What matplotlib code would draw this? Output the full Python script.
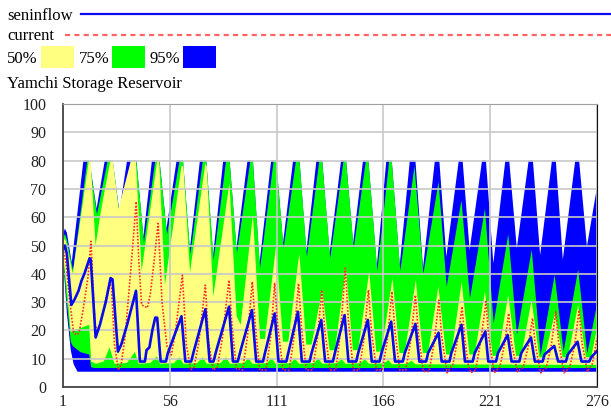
import matplotlib
matplotlib.use("Agg")
import matplotlib.pyplot as plt
from matplotlib.lines import Line2D
from matplotlib.patches import Rectangle

plt.rcParams['font.family'] = ['Liberation Serif', 'DejaVu Serif']

# --- data (time in months, value) ---
x_ticks = [1, 56, 111, 166, 221, 276]
y_ticks = list(range(0, 101, 10))

# 95% band
blue_hi = [(1, 54), (2, 56), (3, 54.5), (5.5, 44), (11.5, 80), (14.6, 80), (18.3, 63),
           (22.5, 80), (26.6, 80), (30, 62), (34, 80), (38.8, 80), (42.4, 53),
           (46.8, 80), (50.7, 80), (54.3, 56), (59.5, 80), (62.8, 80), (66.3, 48.5),
           (71.5, 80), (74.8, 80), (78.3, 46.5), (83.5, 80), (86.8, 80), (90.3, 49),
           (96, 80), (98.8, 80), (102.2, 43.7), (108.2, 80), (110.8, 80), (114.3, 50.8),
           (119.5, 80), (122.8, 80), (126.3, 47.8), (131.5, 80), (134.5, 80), (138.3, 47.2),
           (144.2, 80), (146.8, 80), (150.4, 50.8), (155.5, 80), (158.3, 80), (162.6, 42.5),
           (167.5, 80), (170.3, 80), (174.4, 43), (179.6, 80), (182.5, 80), (186.4, 42),
           (192.5, 80), (194.8, 80), (198.4, 46), (204.8, 80), (206.8, 80), (210.4, 48.4),
           (216.8, 80), (218.8, 80), (222.6, 43.7), (228.8, 80), (230.8, 80), (234.7, 49),
           (240.8, 80), (243, 80), (246.7, 46.6), (252.8, 80), (254.8, 80), (258.4, 45),
           (264.8, 80), (266.8, 80), (270.8, 49.6), (276, 70.6)]
blue_lo = [(1, 46), (3, 26), (5, 13), (6.5, 8), (8.5, 5.4), (276, 5.4)]

# 75% band
green_hi = [(1, 52.5), (2, 54), (3, 52), (6.2, 41), (13.5, 80), (14.6, 80), (18.5, 61),
            (24, 80), (26.6, 80), (30.3, 60), (36, 80), (38.8, 80), (42.7, 51),
            (48.5, 80), (50.7, 80), (54.6, 54), (61, 80), (62.8, 80), (66.6, 47),
            (73, 80), (74.8, 80), (78.6, 45), (85, 80), (86.8, 80), (90.6, 47.5),
            (97.5, 80), (98.8, 80), (102.5, 42), (109.5, 80), (110.8, 80), (114.6, 49),
            (121, 80), (122.8, 80), (126.6, 46), (133, 80), (134.5, 80), (138.6, 45.5),
            (145.5, 80), (146.8, 80), (150.7, 49), (157, 80), (158.3, 80), (162.9, 41),
            (169, 80), (170.3, 80), (174.7, 41), (182, 78), (186.6, 40), (194.4, 72.5),
            (198.6, 35.5), (206.2, 66), (210.6, 31.3), (218.3, 63), (222.8, 22.5),
            (230.3, 54), (234.8, 18.4), (242.4, 48.5), (247, 11.3), (254.2, 39.6),
            (258.8, 12.5), (266.3, 41.5), (271, 11.9), (276, 29)]
green_lo = [(1, 46.5), (3, 30), (5, 16), (6, 14.5), (10, 12.3), (14.5, 11.5), (15.5, 7),
            (17, 6.7), (276, 6.7)]

# 50% band
yellow_hi = [(1, 51), (2, 52.5), (3, 50), (6, 40), (14.3, 80), (15.2, 80), (17.8, 50),
             (20, 60), (22.5, 69.6), (25.4, 80), (26.7, 80), (29.6, 63), (36, 80),
             (38.5, 80), (41.5, 41), (49.5, 80), (50.5, 80), (53.5, 36), (62, 78),
             (63, 78), (66.4, 40.5), (74.3, 79), (75, 78), (78.4, 32), (86.7, 72),
             (90.4, 25), (92.5, 22), (98.8, 60.8), (102.5, 17), (105, 17), (110.7, 49.6),
             (114.3, 16), (117, 16), (122.7, 47.2), (126.3, 15), (129, 15), (134.5, 34.3),
             (138.3, 13), (141, 13), (146.7, 41.9), (150.3, 13), (153, 13), (158.7, 40.8),
             (162.3, 12.5), (165, 12.5), (170.7, 38.4), (174.3, 12), (177, 12),
             (182.7, 37.8), (186.3, 12), (189, 12), (194.3, 35.5), (198.3, 11.5),
             (201, 11.5), (206.3, 37.2), (210.3, 11.5), (213, 11.5), (218.3, 33.7),
             (222.3, 11), (225, 11), (230.3, 32.5), (234.3, 11), (237, 11), (242.3, 30.7),
             (246.3, 10.5), (249, 10.5), (254.3, 26), (258.3, 10.5), (261, 10.5),
             (266.3, 29), (270.3, 10.5), (273, 10.5), (276, 21)]
yellow_lo = [(1, 47), (3, 35), (5, 19.5), (14.5, 22), (15.5, 9), (18, 8.2), (22, 9),
             (25, 14), (27.5, 8.2), (34, 8.5), (38, 12.4), (40, 8.2), (46, 8.5),
             (49.4, 10.8), (51, 8.2), (58, 8.4), (61, 10.5), (63, 8.2), (70, 8.4),
             (73, 10.5), (75, 8.2), (82, 8.4), (85, 10.5), (87, 8.2), (94, 8.4),
             (96.5, 10.2), (98.5, 8.2), (106, 8.4), (108.5, 10.2), (110.5, 8.2),
             (118, 8.4), (120.5, 10), (122.5, 8.2), (130, 8.4), (132.5, 10), (134.5, 8.2),
             (142, 8.4), (144.5, 9.8), (146.5, 8.2), (154, 8.4), (156.5, 9.8), (158.5, 8.2),
             (166, 8.3), (168.5, 9.5), (170.5, 8), (178, 8.2), (180.5, 9.3), (182.5, 8),
             (195, 8), (276, 7.8)]

seninflow = [(1, 48.5), (2, 50), (3, 47), (5.3, 29), (7, 31), (9, 34), (10.5, 37.5),
             (12, 40), (14.7, 45.5), (15.3, 45), (17.8, 17.5), (20, 22), (23, 30),
             (25.5, 38.5), (26.5, 38), (29.3, 12.5), (31, 15), (34, 22), (38.6, 34),
             (40.6, 9), (43.2, 9), (44, 13), (45.5, 14), (47, 20), (48.5, 24.5),
             (49.5, 24.5), (51.3, 9), (54, 9), (55, 12), (62, 25), (64, 9), (67, 9),
             (68.5, 13), (74.3, 27.5), (76.5, 9), (78.5, 9), (80, 13), (86.5, 28.4),
             (88.5, 9), (91, 9), (92.5, 13), (98.3, 27.2), (100.5, 9), (104, 9), (105, 12),
             (110, 26), (112, 9), (116, 9), (117, 12), (122, 26.6), (124, 9), (128, 9),
             (129, 12), (134, 23.7), (136, 9), (140, 9), (141, 12), (146, 25.4), (148, 9),
             (152, 9), (153, 12), (158, 23.7), (160, 9), (164, 9), (165, 12), (170, 23.1),
             (172, 9), (176, 9), (177, 12), (182.5, 22.3), (184.5, 9), (188, 9), (189, 12),
             (194.4, 19.2), (196, 9), (200, 9), (201, 12), (206.2, 22), (208, 9), (212, 9),
             (213, 12), (218.5, 19.6), (220, 9), (224, 9), (225, 12), (230, 18.4), (232, 9),
             (236, 9), (237, 12), (242, 17.5), (244, 9), (248, 9), (249, 11.5), (254, 14.5),
             (256, 9), (260, 9), (261, 11.5), (266, 16), (268, 9), (272, 9), (273, 10.5),
             (276, 12.7)]

current = [(1, 49), (2.5, 44), (4.5, 30), (6.5, 19), (8.5, 18.5), (9.5, 20), (11.3, 27),
           (13.9, 39), (15.4, 51.5), (16.3, 38), (17.5, 22), (18.5, 20), (20, 22),
           (25, 36.5), (26, 35), (27.5, 15), (29.5, 6), (31, 8), (33, 18), (36, 42),
           (38.7, 65.5), (40, 45), (41.5, 29), (44.5, 28), (46, 33), (48, 45), (50, 57.8),
           (52, 30), (54.5, 14.5), (56.8, 11.3), (59, 20), (62.5, 39.5), (64.5, 15),
           (66.8, 6), (68.5, 7), (71, 16), (74.3, 36), (76, 16), (78.3, 6), (80.5, 7),
           (83, 17), (86.5, 37.8), (88, 22), (90.3, 6.5), (93.5, 6), (96, 18), (98.5, 37.2),
           (100, 22), (102.3, 6), (105.5, 6), (108, 18), (110, 36.6), (111.5, 22),
           (114.3, 6), (117.5, 6), (120, 18), (122.3, 36.6), (123.8, 21), (126.3, 6),
           (129.5, 6), (132, 17), (134.3, 34.3), (135.8, 20), (138.5, 6), (141.5, 6),
           (144, 20), (146.4, 42), (147.9, 24), (150.5, 6), (153.5, 6), (156, 17),
           (158.3, 34.3), (159.8, 20), (162.4, 6), (165.5, 6), (168, 16.5), (170.4, 33.7),
           (171.9, 20), (174.4, 6), (177.5, 6), (180, 16), (182.5, 32.5), (184, 19),
           (186.5, 5.5), (189.5, 5.5), (192, 15), (194.6, 30.7), (196, 18), (198.8, 5),
           (201.8, 8), (204.3, 17), (206.5, 28.4), (207.8, 17.8), (209.5, 8.4), (211, 5),
           (213.5, 6), (216.3, 17), (218.8, 30.2), (220.2, 18), (223, 5), (226, 7),
           (228.3, 15), (230.5, 26), (231.8, 16), (235, 5.4), (238, 7), (240.5, 14),
           (242.8, 24.3), (244.2, 15), (247, 5), (250, 7), (252.5, 15), (254.8, 26.6),
           (256.2, 16), (259, 5), (262, 7), (264.5, 15), (266.8, 27.2), (268.2, 16),
           (271, 5.4), (273.5, 8), (276, 17.2)]

band_colors = {'50%': '#ffff80', '75%': '#00ff00', '95%': '#0000ff'}
line_blue = '#0a0aee'
line_red = '#ff2a2a'

W, H = 611, 412
fig = plt.figure(figsize=(W / 100, H / 100), dpi=100)


def fx(px):
    return px / W


def fy(py):
    return 1 - py / H


ax = fig.add_axes([fx(63), fy(387), 534 / W, 283 / H])


def band(hi, lo, color):
    xs = [p[0] for p in hi] + [p[0] for p in lo[::-1]]
    ys = [p[1] for p in hi] + [p[1] for p in lo[::-1]]
    ax.fill(xs, ys, color=color, lw=0, zorder=1)


band(blue_hi, blue_lo, band_colors['95%'])
band(green_hi, green_lo, band_colors['75%'])
band(yellow_hi, yellow_lo, band_colors['50%'])

ax.plot([p[0] for p in current], [p[1] for p in current], color=line_red,
        lw=1.2, linestyle=(0, (1, 1)), zorder=3)
ax.plot([p[0] for p in seninflow], [p[1] for p in seninflow], color=line_blue,
        lw=1.9, zorder=4)

ax.set_xlim(1, 276)
ax.set_ylim(0, 100)
ax.set_xticks(x_ticks)
ax.set_yticks(y_ticks)
ax.tick_params(length=0, labelsize=11.5, colors='#222222')
ax.tick_params(axis='y', pad=12)
ax.tick_params(axis='x', pad=5)
ax.set_axisbelow(False)
ax.grid(True, color='#c8c8c8', lw=1.2)
for s in ['left', 'bottom']:
    ax.spines[s].set_color('#444444')
    ax.spines[s].set_linewidth(1.3)
ax.spines['right'].set_color('#111111')
ax.spines['top'].set_color('#a0a0a0')
for s in ax.spines.values():
    s.set_zorder(5)

# legend block (Vensim style)
fs = 12
fig.text(fx(7), fy(20.5), 'seninflow', fontsize=fs, va='baseline')
fig.add_artist(Line2D([fx(81), 1], [fy(14), fy(14)], color=line_blue, lw=1.6,
                      transform=fig.transFigure))
fig.text(fx(7), fy(40.5), 'current', fontsize=fs, va='baseline')
fig.add_artist(Line2D([fx(65), 1], [fy(34.5), fy(34.5)], color='#ff6464', lw=1.6,
                      dashes=(2.3, 1.9), transform=fig.transFigure))
for label, tx, rx in [('50%', 7, 41), ('75%', 79, 112), ('95%', 149, 183)]:
    fig.text(fx(tx), fy(63), label, fontsize=fs, va='baseline')
    fig.add_artist(Rectangle((fx(rx), fy(68)), 33 / W, 22 / H,
                             color=band_colors[label], lw=0,
                             transform=fig.transFigure))
fig.text(fx(7), fy(88), 'Yamchi Storage Reservoir', fontsize=fs, va='baseline')

fig.savefig('out.png', dpi=100)
